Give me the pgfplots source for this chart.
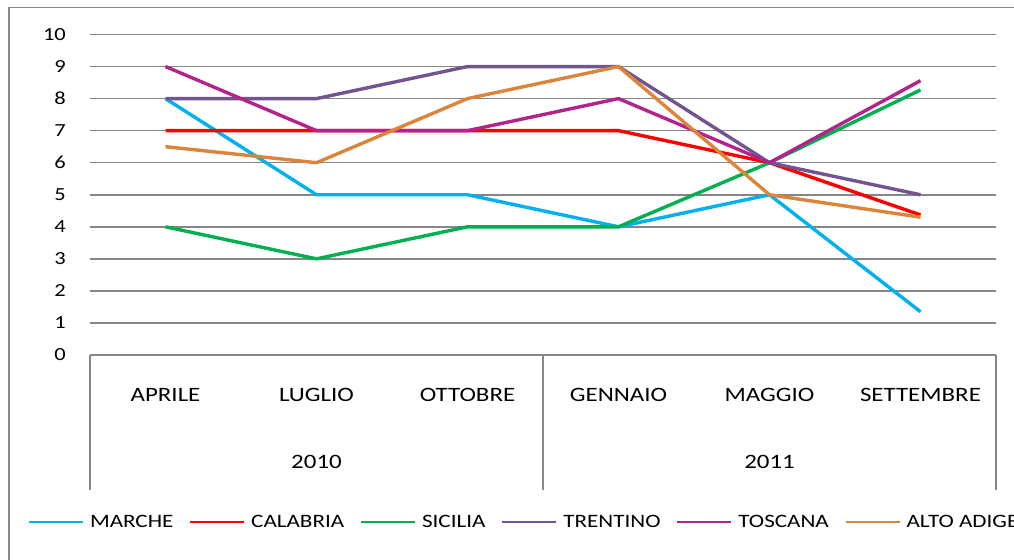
\documentclass[border=0pt]{standalone}
\usepackage{pgfplots}
\pgfplotsset{compat=1.18}
\usepackage{fontspec}
\setmainfont{Carlito}[FakeStretch=1.22]
\definecolor{gridgray}{HTML}{868686}
\definecolor{cMarche}{HTML}{00B0F0}
\definecolor{cCalabria}{HTML}{FF0000}
\definecolor{cSicilia}{HTML}{00B050}
\definecolor{cTrentino}{HTML}{725590}
\definecolor{cToscana}{HTML}{B4228C}
\definecolor{cAlto}{HTML}{DC8439}
\begin{document}
\begin{tikzpicture}[x=1bp,y=1bp]
\path[use as bounding box] (0,0) rectangle (1014,-560);
\draw[gridgray, line width=1.8bp] (9,-570) -- (9,-7.5) -- (1030,-7.5);
\begin{axis}[
  at={(90bp,-355bp)}, anchor=south west,
  scale only axis, width=906bp, height=320.5bp,
  xmin=-0.5, xmax=5.5, ymin=0, ymax=10,
  xtick={0,...,5},
  xticklabels={APRILE,LUGLIO,OTTOBRE,GENNAIO,MAGGIO,SETTEMBRE},
  ytick={0,...,10},
  axis line style={draw=none},
  tick style={draw=none},
  ymajorgrids, grid style={color=gridgray, line width=1.5bp},
  clip=false,
  /pgf/number format/assume math mode=true,
  xticklabel style={font=\fontsize{20.5}{24}\selectfont, anchor=center, inner sep=0pt, yshift=-40bp},
  yticklabel style={font=\fontsize{18.5}{22}\selectfont, anchor=east, inner sep=0pt, xshift=-24bp},
  legend columns=6,
  legend style={draw=none, fill=none, at={(-0.0684,-0.521)}, anchor=west, inner sep=0pt,
    font=\fontsize{19}{22}\selectfont,
    nodes={inner sep=0pt},
    /tikz/every odd column/.append style={column sep=6bp},
    /tikz/every even column/.append style={column sep=16bp}},
  legend image code/.code={\draw[#1, line width=1.8bp] (0bp,0bp) -- (54bp,0bp);},
]
\addplot[cMarche, line width=3.4bp, line join=round] coordinates {(0,8)(1,5)(2,5)(3,4)(4,5)(5,1.35)};
\addlegendentry{MARCHE}
\addplot[cCalabria, line width=3.4bp, line join=round] coordinates {(0,7)(1,7)(2,7)(3,7)(4,6)(5,4.37)};
\addlegendentry{CALABRIA}
\addplot[cSicilia, line width=3.4bp, line join=round] coordinates {(0,4)(1,3)(2,4)(3,4)(4,6)(5,8.27)};
\addlegendentry{SICILIA}
\addplot[cTrentino, line width=3.4bp, line join=round] coordinates {(0,8)(1,8)(2,9)(3,9)(4,6)(5,5)};
\addlegendentry{TRENTINO}
\addplot[cToscana, line width=3.4bp, line join=round] coordinates {(0,9)(1,7)(2,7)(3,8)(4,6)(5,8.56)};
\addlegendentry{TOSCANA}
\addplot[cAlto, line width=3.4bp, line join=round] coordinates {(0,6.5)(1,6)(2,8)(3,9)(4,5)(5,4.3)};
\addlegendentry{ALTO ADIGE}
\draw[gridgray, line width=1.5bp] (axis cs:-0.5,0) -- ([yshift=-135bp]axis cs:-0.5,0);
\draw[gridgray, line width=1.5bp] (axis cs:2.5,0) -- ([yshift=-135bp]axis cs:2.5,0);
\draw[gridgray, line width=1.5bp] (axis cs:5.5,0) -- ([yshift=-135bp]axis cs:5.5,0);
\node[font=\fontsize{20.5}{24}\selectfont, inner sep=0pt] at ([yshift=-107bp]axis cs:1,0) {2010};
\node[font=\fontsize{20.5}{24}\selectfont, inner sep=0pt] at ([yshift=-107bp]axis cs:4,0) {2011};
\end{axis}
\end{tikzpicture}
\end{document}
